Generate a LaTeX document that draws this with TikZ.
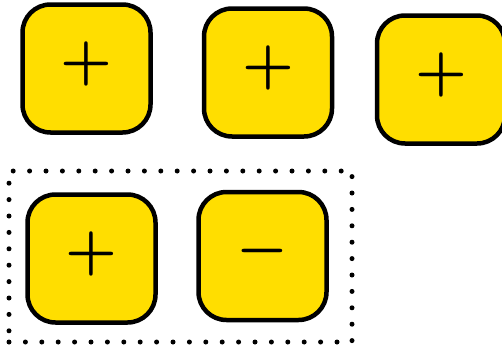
\documentclass[tikz,border=0pt]{standalone}
\newcommand{\bigsym}[1]{\scalebox{5.8}{\boldmath$#1$}}
\begin{document}
\begin{tikzpicture}[x=1pt,y=-1pt,
  keybox/.style={draw=black, line width=4.5pt, fill=keyyellow, rounded corners=28pt,
    minimum width=128pt, minimum height=128pt, inner sep=0pt, outer sep=0pt},
  sym/.style={inner sep=0pt, yshift=5pt},
  group/.style={draw=black, line width=5pt, line cap=round, dash pattern=on 0pt off 16.4pt,
    minimum width=343pt, minimum height=171pt, inner sep=0pt}]
\definecolor{keyyellow}{HTML}{FFDE00}
\useasboundingbox (0,0) rectangle (502,348);
\node[group] (grp) at (180.5,256.5) {};
\node[keybox, label={[sym]center:\bigsym{+}}] (b1) at (86.5,68.5) {};
\node[keybox, label={[sym]center:\bigsym{+}}] (b2) at (268,72.5) {};
\node[keybox, label={[sym]center:\bigsym{+}}] (b3) at (441,79.5) {};
\node[keybox, label={[sym]center:\bigsym{+}}] (b4) at (91.5,258.5) {};
\node[keybox, label={[sym]center:\bigsym{-}}] (b5) at (262.5,256) {};
\end{tikzpicture}
\end{document}
